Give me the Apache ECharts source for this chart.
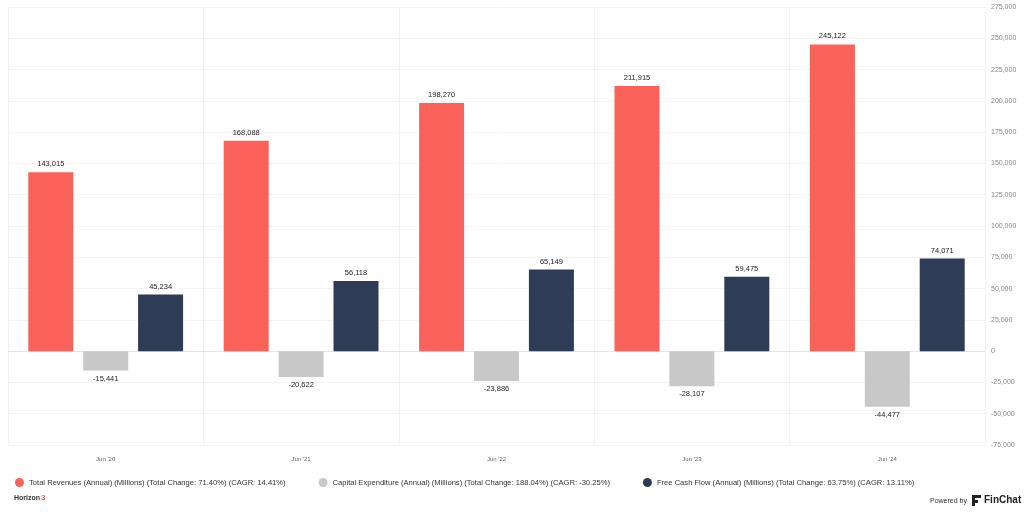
<!DOCTYPE html>
<html><head><meta charset="utf-8">
<script src="https://cdn.jsdelivr.net/npm/echarts@6/dist/echarts.min.js"></script>
<style>html,body{margin:0;padding:0;background:#fff}#c{width:1024px;height:512px}</style>
</head><body><div id="c"></div>
<script>
const categories = ["Jun '20", "Jun '21", "Jun '22", "Jun '23", "Jun '24"];
const revenues = [143015, 168088, 198270, 211915, 245122];
const capex = [-15441, -20622, -23886, -28107, -44477];
const fcf = [45234, 56118, 65149, 59475, 74071];
const seriesNames = [
  "Total Revenues (Annual) (Millions) (Total Change: 71.40%) (CAGR: 14.41%)",
  "Capital Expenditure (Annual) (Millions) (Total Change: 188.04%) (CAGR: -30.25%)",
  "Free Cash Flow (Annual) (Millions) (Total Change: 63.75%) (CAGR: 13.11%)"
];
const colors = ["#F9625A", "#C8C8C8", "#2E3D55"];
const font = "'Liberation Sans', Arial, sans-serif";
const fmt = v => Math.round(v).toLocaleString('en-US');
const chart = echarts.init(document.getElementById('c'), null, {renderer: 'canvas'});
function mk(i, data, pos) {
  return {
    name: seriesNames[i], type: 'bar', data: data, barWidth: 45, barGap: '22%',
    itemStyle: {color: colors[i]},
    label: {show: true, position: pos, distance: 4, formatter: p => fmt(p.value),
      fontFamily: font, fontSize: 7.5, color: '#222'}
  };
}
chart.setOption({
  animation: false,
  backgroundColor: '#fff',
  grid: {left: 8, right: 39, top: 7, bottom: 67},
  legend: {
    left: 10, top: 473, icon: 'circle', itemWidth: 9, itemHeight: 9, itemGap: 33,
    textStyle: {fontFamily: font, fontSize: 7.6, color: '#333'},
    data: seriesNames
  },
  xAxis: {
    type: 'category', data: categories,
    axisLine: {show: true, lineStyle: {color: '#e6e6e6'}},
    axisTick: {show: false},
    axisLabel: {fontFamily: font, fontSize: 6, color: '#666', margin: 11},
    splitLine: {show: true, lineStyle: {color: '#f2f2f2'}}
  },
  yAxis: {
    type: 'value', position: 'right', min: -75000, max: 275000, interval: 25000,
    axisLine: {show: true, lineStyle: {color: '#f2f2f2'}},
    axisLabel: {fontFamily: font, fontSize: 7, color: '#888', margin: 6, formatter: v => fmt(v)},
    splitLine: {lineStyle: {color: '#f4f4f4'}}
  },
  series: [mk(0, revenues, 'top'), mk(1, capex, 'bottom'), mk(2, fcf, 'top')],
  graphic: [
    {type: 'text', left: 14, top: 495, style: {text: 'Horizon', fontFamily: font, fontSize: 7, fontWeight: 'bold', fill: '#333'}},
    {type: 'text', left: 41, top: 494, style: {text: '3', fontFamily: font, fontSize: 8, fontWeight: 'bold', fill: '#F9625A'}},
    {type: 'text', left: 930, top: 498, style: {text: 'Powered by', fontFamily: font, fontSize: 7, fill: '#333'}},
    {type: 'rect', left: 972, top: 495, shape: {width: 3, height: 11}, style: {fill: '#222'}},
    {type: 'rect', left: 972, top: 495, shape: {width: 9, height: 3}, style: {fill: '#222'}},
    {type: 'rect', left: 972, top: 500, shape: {width: 6, height: 3}, style: {fill: '#222'}},
    {type: 'text', left: 984, top: 495, style: {text: 'FinChat', fontFamily: font, fontSize: 10, fontWeight: 'bold', fill: '#222'}}
  ]
});
</script></body></html>
